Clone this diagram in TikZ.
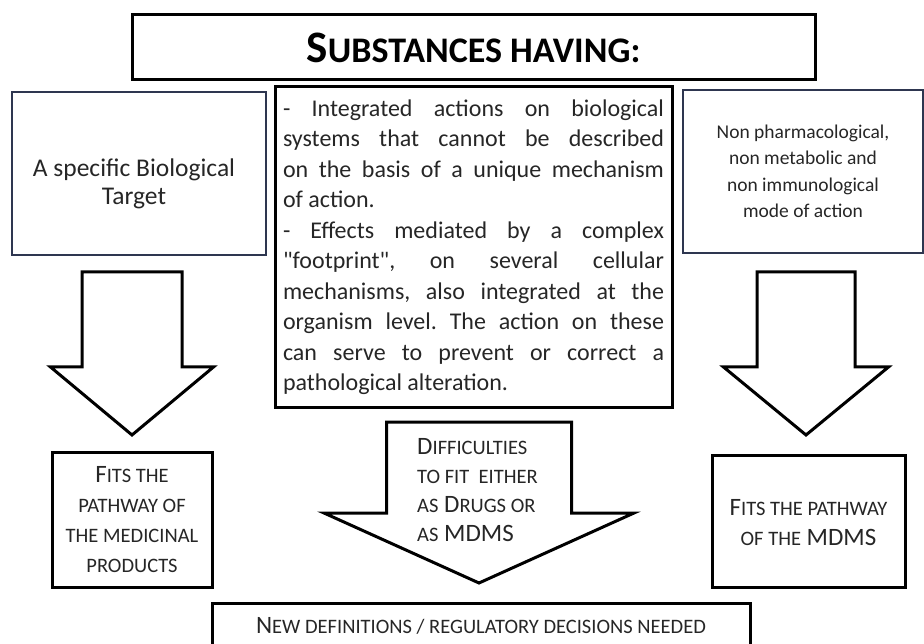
\documentclass[tikz,border=0pt]{standalone}
\usepackage{fontspec}
\setmainfont{Carlito}

\definecolor{bordoBlu}{HTML}{2E3650}

% Freccia a blocco verso il basso: centro, cima, semi-asta, semi-testa, spalla, punta.
\newcommand{\frecciablocco}[6]{%
	\draw[freccia] (#1-#3,#2) -- (#1+#3,#2) -- (#1+#3,#5) -- (#1+#4,#5)
		-- (#1,#6) -- (#1-#4,#5) -- (#1-#3,#5) -- cycle;%
}
% Maiuscoletto finto: Carlito non ha le piccole maiuscole.
\newcommand{\mpic}[1]{{\fontsize{20.5}{30}\selectfont #1}}
\newcommand{\mpict}[1]{{\fontsize{36}{40}\selectfont #1}}

\begin{document}
\frenchspacing
\begin{tikzpicture}[x=1pt,y=-1pt,
  riquadro/.style={draw=black,line width=3pt,inner sep=0pt},
  riquadroblu/.style={draw=bordoBlu,line width=1.5pt,inner sep=0pt},
  freccia/.style={draw=black,line width=3pt,fill=white,line join=miter},
  maiuscoletto/.style={font=\fontsize{25}{30}\selectfont,align=center,text=black!85,inner sep=0pt},
  corpo/.style={align=center,text=black!85}]
  \useasboundingbox (0,0) rectangle (924,644);
  % Titolo in alto.
  \node[riquadro,minimum width=683pt,minimum height=65pt,
    font=\fontsize{45}{48}\selectfont\bfseries] (titolo) at (473.5,47.5)
    {S\mpict{UBSTANCES HAVING:}};
  % Tre riquadri delle proprieta'.
  \node[riquadroblu,minimum width=254pt,minimum height=163pt] (bersaglio) at (139,173.5) {};
  \node[corpo,font=\fontsize{25.5}{28}\selectfont] (testobersaglio) at (134,184)
    {A specific Biological\\Target};
  \node[riquadro,minimum width=397pt,minimum height=320pt,text=black!85,
    text width=381pt,align=justify,font=\fontsize{24}{30.5}\selectfont] (integrato) at (473.5,247)
    {- Integrated actions on biological\linebreak
     systems that cannot be described\linebreak
     on the basis of a unique mechanism\linebreak
     of action.\par
     - Effects mediated by a complex\linebreak
     \textquotedbl footprint\textquotedbl, on several cellular\linebreak
     mechanisms, also integrated at the\linebreak
     organism level. The action on these\linebreak
     can serve to prevent or correct a\linebreak
     pathological alteration.};
  \node[riquadroblu,corpo,minimum width=240pt,minimum height=163pt,
    font=\fontsize{19.5}{26.5}\selectfont] (nonfarmaco) at (803,171.5)
    {Non pharmacological,\\non metabolic and\\non immunological\\mode of action};
  % Frecce a blocco.
  \frecciablocco{132}{272}{50}{81.5}{367}{435}
  \frecciablocco{806}{272}{49}{82.5}{367}{435}
  \frecciablocco{479}{422}{92.5}{155}{513}{583}
  \node[maiuscoletto,align=left,anchor=west,
    font=\fontsize{25}{29}\selectfont] (difficolta) at (417,490)
    {D\mpic{IFFICULTIES}\\\mpic{TO FIT\ \ EITHER}\\\mpic{AS} D\mpic{RUGS OR}\\\mpic{AS} MDMS};
  % Riquadri di esito.
  \node[riquadro,minimum width=160pt,minimum height=135pt] (medicinali) at (132,519.5) {};
  \node[maiuscoletto] (testomedicinali) at (medicinali.center)
    {F\mpic{ITS THE}\\\mpic{PATHWAY OF}\\\mpic{THE MEDICINAL}\\\mpic{PRODUCTS}};
  \node[riquadro,minimum width=193pt,minimum height=132pt] (mdms) at (808.5,521) {};
  \node[maiuscoletto] (testomdms) at ([yshift=-2pt]mdms.center)
    {F\mpic{ITS THE PATHWAY}\\\mpic{OF THE} MDMS};
  \node[riquadro,maiuscoletto,minimum width=538pt,minimum height=46pt] (decisioni) at (481,626)
    {N\mpic{EW DEFINITIONS / REGULATORY DECISIONS NEEDED}};
\end{tikzpicture}
\end{document}
